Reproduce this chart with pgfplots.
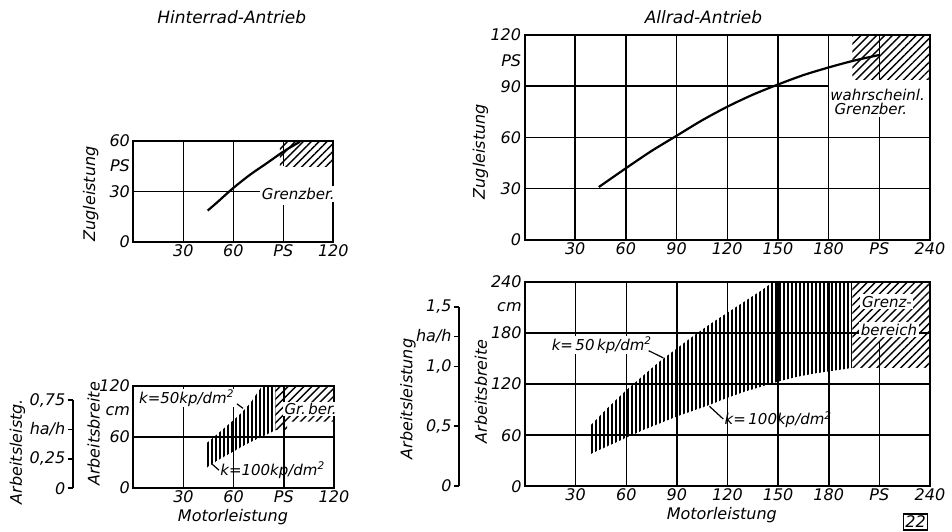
\documentclass[border=0pt]{standalone}
\usepackage{fontspec}
\setmainfont{DejaVu Sans}
\usepackage{pgfplots}
\pgfplotsset{compat=1.18}
\usetikzlibrary{patterns.meta}
\newcommand\tickfnt{\fontsize{8bp}{9bp}\selectfont\itshape}
\newcommand\smallfnt{\fontsize{7.5bp}{8.5bp}\selectfont\itshape}
\pgfplotsset{
  base/.style={scale only axis, anchor=south west, clip=false,
    axis line style={line width=1bp},
    major tick length=0pt,
    tick label style={font=\tickfnt},
    xticklabel style={inner sep=1bp},
    yticklabel style={inner sep=1.5bp},
  },
  sec/.style={scale only axis, anchor=south west, width=0.1bp, xmin=0, xmax=1,
    hide x axis, axis y line*=left, axis line style={line width=0.9bp},
    tick align=outside, major tick length=2.5bp,
    major tick style={line width=0.9bp, black},
    ymin=0, tick label style={font=\tickfnt}, yticklabel style={inner sep=1bp}},
}
\tikzset{
  gl/.style={line width=0.75bp},
  hatch/.style={draw=none, pattern={Lines[angle=45,distance=2.8bp,line width=0.7bp]}},
  vband/.style={draw=none, pattern={Lines[angle=90,distance=2bp,line width=0.75bp]}},
  lab/.style={font=\smallfnt},
  ldr/.style={line width=0.6bp},
}
\begin{document}
\itshape
\begin{tikzpicture}
\path[use as bounding box] (0,0) rectangle (476bp,266bp);
% titles
\node[font=\fontsize{8.5bp}{9.5bp}\selectfont\itshape] at (115.85bp,257.4bp) {Hinterrad-Antrieb};
\node[font=\fontsize{8.5bp}{9.5bp}\selectfont\itshape] at (351.75bp,257.5bp) {Allrad-Antrieb};
% axis labels
\node[font=\tickfnt, rotate=90] at (45.4bp,169bp) {Zugleistung};
\node[font=\tickfnt, rotate=90] at (240.25bp,190.2bp) {Zugleistung};
\node[font=\tickfnt, rotate=90] at (46.8bp,49bp) {Arbeitsbreite};
\node[font=\tickfnt, rotate=90] at (8.75bp,40.2bp) {Arbeitsleistg.};
\node[font=\tickfnt] at (116.5bp,7.7bp) {Motorleistung};
\node[font=\tickfnt] at (360.9bp,8.5bp) {Motorleistung};
\node[font=\tickfnt, rotate=90] at (240.5bp,70.2bp) {Arbeitsbreite};
\node[font=\tickfnt, rotate=90] at (204bp,66.5bp) {Arbeitsleistung};
\node[font=\tickfnt, draw, line width=0.6bp, inner sep=1bp] at (457.75bp,5bp) {22};

% ---------- top left: Hinterrad, Zugleistung
\begin{axis}[base, at={(66.65bp,145bp)}, width=100bp, height=50.65bp,
  xmin=0, xmax=120, ymin=0, ymax=60,
  xtick={30,60,90,120}, xticklabels={30,60,PS,120},
  ytick={0,30,45,60}, yticklabels={0,30,PS,60}]
  \addplot[hatch] coordinates {(88,45) (120,45) (120,60) (88,60)} -- cycle;
  \draw[gl] (axis cs:30,0) -- (axis cs:30,60);
  \draw[gl] (axis cs:60,0) -- (axis cs:60,60);
  \draw[gl] (axis cs:90,0) -- (axis cs:90,22);
  \draw[gl] (axis cs:90,45) -- (axis cs:90,60);
  \draw[gl] (axis cs:0,30) -- (axis cs:77,30);
  \node[lab, fill=white, inner sep=1bp] at (axis cs:99,28.5) {Grenzber.};
  \addplot[line width=1.1bp, smooth] coordinates {(44.6,18.6) (50,23.2) (60,32) (70,39.8) (80,46.6) (90,53.5) (100,59.4)};
\end{axis}

% ---------- top right: Allrad, Zugleistung
\begin{axis}[base, at={(262.25bp,146bp)}, width=202.75bp, height=102.5bp,
  xmin=0, xmax=240, ymin=0, ymax=120,
  xtick={30,60,90,120,150,180,210,240}, xticklabels={30,60,90,120,150,180,PS,240},
  ytick={0,30,60,90,105,120}, yticklabels={0,30,60,90,PS,120}]
  \addplot[hatch] coordinates {(194,94) (240,94) (240,120) (194,120)} -- cycle;
  \draw[gl] (axis cs:30,0) -- (axis cs:30,120);
  \draw[gl] (axis cs:60,0) -- (axis cs:60,120);
  \draw[gl] (axis cs:90,0) -- (axis cs:90,120);
  \draw[gl] (axis cs:120,0) -- (axis cs:120,120);
  \draw[gl] (axis cs:150,0) -- (axis cs:150,120);
  \draw[gl] (axis cs:180,0) -- (axis cs:180,120);
  \draw[gl] (axis cs:210,0) -- (axis cs:210,72);
  \draw[gl] (axis cs:210,94) -- (axis cs:210,120);
  \draw[gl] (axis cs:0,30) -- (axis cs:240,30);
  \draw[gl] (axis cs:0,60) -- (axis cs:240,60);
  \draw[gl] (axis cs:0,90) -- (axis cs:180,90);
  \node[lab, fill=white, inner sep=0.8bp] at (axis cs:209,85) {wahrscheinl.};
  \node[lab, fill=white, inner sep=0.8bp] at (axis cs:205,76.5) {Grenzber.};
  \addplot[line width=1.1bp, smooth] coordinates {(44,31) (60,42) (75,52) (90,61) (105,70) (120,78) (135,85) (150,91) (165,96.5) (180,101) (195,105) (210,108.3)};
\end{axis}

% ---------- bottom left: Hinterrad, Arbeitsbreite
\begin{axis}[base, at={(66.65bp,22bp)}, width=100.35bp, height=51bp,
  xmin=0, xmax=120, ymin=0, ymax=120,
  xtick={30,60,90,120}, xticklabels={30,60,PS,120},
  ytick={0,60,90,120}, yticklabels={0,60,cm,120}]
  \draw[gl] (axis cs:30,0) -- (axis cs:30,120);
  \draw[gl] (axis cs:60,0) -- (axis cs:60,120);
  \draw[gl] (axis cs:90,0) -- (axis cs:90,120);
  \draw[gl] (axis cs:0,60) -- (axis cs:120,60);
  \addplot[vband] coordinates {(44,53) (50,63) (60,80) (65,89) (70,100) (77,120) (85,120)
     (85,68) (80,63) (70,54) (60,43) (50,32) (44,24)} -- cycle;
  \addplot[hatch] coordinates {(85,68) (85,120) (120,120) (120,78) (92,78) (92,68)} -- cycle;
  \node[lab, fill=white, inner sep=0.8bp] at (axis cs:106,93) {Gr.\,ber.};
  \node[lab, fill=white, inner sep=0.5bp] at (axis cs:32,106) {k=50kp/dm\textsuperscript{2}};
  \draw[ldr] (axis cs:62,99) -- (axis cs:65.6,93.7);
  \node[lab, anchor=west, inner sep=0.5bp] at (axis cs:51.2,21) {k=100kp/dm\textsuperscript{2}};
  \draw[ldr] (axis cs:46.6,29) -- (axis cs:51.2,21);
\end{axis}

% ---------- bottom right: Allrad, Arbeitsbreite
\begin{axis}[base, at={(262.5bp,22.85bp)}, width=202.5bp, height=102.15bp,
  xmin=0, xmax=240, ymin=0, ymax=240,
  xtick={30,60,90,120,150,180,210,240}, xticklabels={30,60,90,120,150,180,PS,240},
  ytick={0,60,120,180,210,240}, yticklabels={0,60,120,180,cm,240}]
  \draw[gl] (axis cs:30,0) -- (axis cs:30,240);
  \draw[gl] (axis cs:60,0) -- (axis cs:60,240);
  \draw[gl] (axis cs:90,0) -- (axis cs:90,240);
  \draw[gl] (axis cs:120,0) -- (axis cs:120,240);
  \draw[gl] (axis cs:150,0) -- (axis cs:150,240);
  \draw[gl] (axis cs:180,0) -- (axis cs:180,240);
  \draw[gl] (axis cs:210,0) -- (axis cs:210,170);
  \draw[gl] (axis cs:0,60) -- (axis cs:240,60);
  \draw[gl] (axis cs:0,120) -- (axis cs:240,120);
  \draw[gl] (axis cs:0,180) -- (axis cs:240,180);
  \addplot[vband] coordinates {(39,72) (50,94) (60,113) (70,130) (80,147) (90,162) (100,177)
     (110,191) (120,204) (130,217) (140,230) (147,240) (194,240)
     (194,139) (180,135) (170,132) (160,128) (150,123) (140,117) (130,111) (120,104)
     (110,96) (100,89) (90,82) (80,74) (70,66) (60,57) (50,48) (39,38)} -- cycle;
  \addplot[hatch] coordinates {(194,139) (240,139) (240,240) (194,240)} -- cycle;
  \node[lab, fill=white, inner sep=0.8bp] at (axis cs:214.5,217) {Grenz-};
  \node[lab, fill=white, inner sep=0.8bp] at (axis cs:215.7,184) {bereich};
  \node[lab, fill=white, inner sep=0.5bp] at (axis cs:45.6,166) {k=\,50\,kp/dm\textsuperscript{2}};
  \draw[ldr] (axis cs:73.3,159.3) -- (axis cs:82,150.8);
  \node[lab, anchor=west, inner sep=0.5bp] at (axis cs:117.5,78.3) {k=\,100kp/dm\textsuperscript{2}};
  \draw[ldr] (axis cs:109.3,94) -- (axis cs:117.5,79);
\end{axis}

% ---------- secondary axes: Arbeitsleistung
\begin{axis}[sec, at={(36.35bp,21.85bp)}, height=44.15bp, ymax=0.75,
  ytick={0,0.25,0.5,0.75}, yticklabels={0,{0,25},ha/h,{0,75}}]
\end{axis}
\begin{axis}[sec, at={(229.5bp,23bp)}, height=89.65bp, ymax=1.5,
  ytick={0,0.5,1,1.25,1.5}, yticklabels={0,{0,5},{1,0},ha/h,{1,5}}]
\end{axis}
\end{tikzpicture}
\end{document}
